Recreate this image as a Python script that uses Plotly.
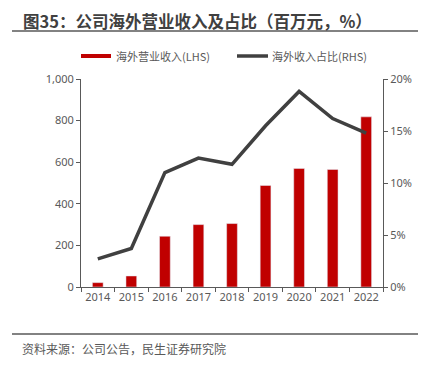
import plotly.graph_objects as go

years = ["2014", "2015", "2016", "2017", "2018", "2019", "2020", "2021", "2022"]
overseas_revenue = [21, 53, 244, 300, 305, 488, 570, 565, 818]
overseas_share = [2.7, 3.7, 11.0, 12.4, 11.8, 15.5, 18.8, 16.2, 14.8]

left_ticks = [0, 200, 400, 600, 800, 1000]
left_labels = ["0", "200", "400", "600", "800", "1,000"]
right_ticks = [0, 5, 10, 15, 20]
right_labels = ["0%", "5%", "10%", "15%", "20%"]

title_text = "图35：公司海外营业收入及占比（百万元，%）"
source_text = "资料来源：公司公告，民生证券研究院"
bar_name = "海外营业收入(LHS)"
line_name = "海外收入占比(RHS)"

RED = "#C00000"
DARK = "#404040"
GREY = "#595959"
FONT = "Noto Sans, Noto Sans CJK SC, sans-serif"
CJK = "Noto Sans CJK SC, sans-serif"

fig = go.Figure()
fig.add_trace(go.Bar(x=years, y=overseas_revenue, name=bar_name, marker_color=RED,
                     width=0.32, yaxis="y", showlegend=False))
fig.add_trace(go.Scatter(x=years, y=overseas_share, name=line_name, mode="lines",
                         line=dict(color=DARK, width=3.5), yaxis="y2", showlegend=False))

axis_common = dict(showgrid=False, zeroline=False, showline=True, linecolor=GREY, linewidth=1,
                   ticks="outside", ticklen=4, tickcolor=GREY, automargin=False, tickangle=0,
                   tickfont=dict(family=FONT, size=11, color=GREY))

# page body has an 8px margin; compensate so the plot sits where the reference has it
fig.update_layout(
    width=426, height=359,
    margin=dict(l=73, r=51, t=71, b=80),
    paper_bgcolor="white", plot_bgcolor="white",
    bargap=0.68,
    xaxis=dict(type="category", range=[-0.5, 8.5], tickson="boundaries", **axis_common),
    yaxis=dict(range=[0, 1000], tickvals=left_ticks, ticktext=left_labels, **axis_common),
    yaxis2=dict(range=[0, 20], tickvals=right_ticks, ticktext=right_labels, overlaying="y",
                side="right", **axis_common),
    shapes=[
        dict(type="line", xref="paper", yref="paper", x0=-69/302, x1=337/302,
             y0=1 + (79-31)/208, y1=1 + (79-31)/208, line=dict(color=GREY, width=1.5)),
        dict(type="line", xref="paper", yref="paper", x0=-69/302, x1=337/302,
             y0=-(334-287)/208, y1=-(334-287)/208, line=dict(color=GREY, width=1.5)),
        dict(type="rect", xref="paper", yref="paper", x0=0, x1=30/302,
             y0=1 + (79-58)/208, y1=1 + (79-54)/208, fillcolor=RED, line=dict(width=0)),
        dict(type="line", xref="paper", yref="paper", x0=(237-81)/302, x1=(268-81)/302,
             y0=1 + (79-56)/208, y1=1 + (79-56)/208, line=dict(color=DARK, width=3.5)),
    ],
    annotations=[
        dict(text="<b>" + title_text + "</b>", xref="paper", yref="paper",
             x=(21-81)/302, y=1 + (79-21)/208, xanchor="left", yanchor="middle",
             showarrow=False, font=dict(family=CJK, size=16.5, color="#404040")),
        dict(text=bar_name, xref="paper", yref="paper",
             x=(114-81)/302, y=1 + (79-56)/208, xanchor="left", yanchor="middle",
             showarrow=False, font=dict(family=CJK, size=11, color=GREY)),
        dict(text=line_name, xref="paper", yref="paper",
             x=(270-81)/302, y=1 + (79-56)/208, xanchor="left", yanchor="middle",
             showarrow=False, font=dict(family=CJK, size=11, color=GREY)),
        dict(text=source_text, xref="paper", yref="paper",
             x=(20-81)/302, y=-(348-287)/208, xanchor="left", yanchor="middle",
             showarrow=False, font=dict(family=CJK, size=12, color=GREY)),
    ],
)

fig.write_html("out.html")
